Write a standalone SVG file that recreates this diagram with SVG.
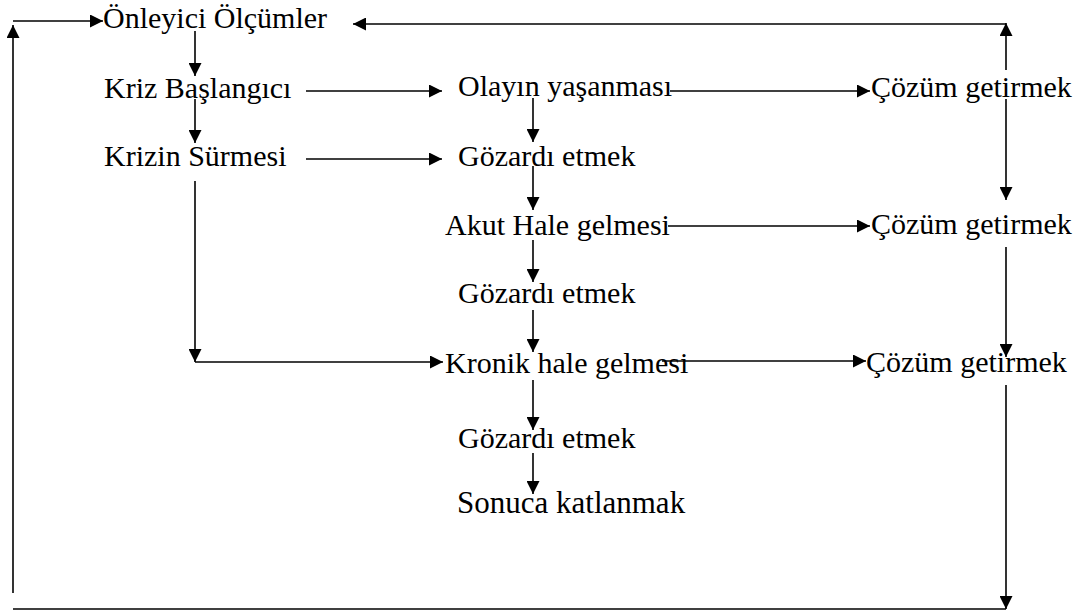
<svg xmlns="http://www.w3.org/2000/svg" width="1083" height="614" viewBox="0 0 1083 614">
  <style>
    .ln { stroke: #000; stroke-width: 1.6; fill: none; }
    .arr { marker-end: url(#head); }
  </style>
  <defs>
    <marker id="head" viewBox="0 0 12 12" refX="12" refY="6" markerWidth="13" markerHeight="13" markerUnits="userSpaceOnUse" orient="auto">
      <path d="M0,0 L12,6 L0,12 Z" fill="#000"/>
    </marker>
  </defs>
  <rect width="1083" height="614" fill="#fff"/>

  <g id="connectors">
    <!-- outer feedback loop -->
    <path class="ln arr" d="M13,593 V25"/>
    <path class="ln arr" d="M13,21 H103"/>
    <path class="ln" d="M13,609 H1006"/>
    <path class="ln arr" d="M1006,385 V609"/>
    <path class="ln arr" d="M1006,70 V23"/>
    <path class="ln arr" d="M1006,24 H353"/>
    <!-- left column -->
    <path class="ln arr" d="M195,31 V76"/>
    <path class="ln arr" d="M195,99 V143"/>
    <path class="ln arr" d="M195,181 V362"/>
    <path class="ln arr" d="M195,362 H443"/>
    <path class="ln arr" d="M306,91 H442"/>
    <path class="ln arr" d="M306,159 H442"/>
    <!-- middle column -->
    <path class="ln arr" d="M533,98 V142"/>
    <path class="ln arr" d="M533,166 V210"/>
    <path class="ln arr" d="M533,240 V282"/>
    <path class="ln arr" d="M533,310 V352"/>
    <path class="ln arr" d="M533,380 V430"/>
    <path class="ln arr" d="M533,453 V494"/>
    <!-- to solutions -->
    <path class="ln arr" d="M670,91 H870"/>
    <path class="ln arr" d="M668,226 H870"/>
    <path class="ln arr" d="M662,361 H866"/>
    <!-- right column -->
    <path class="ln arr" d="M1006,99 V200"/>
    <path class="ln arr" d="M1006,247 V357"/>
  </g>

  <g font-family="Liberation Serif, Times New Roman, serif" font-size="30" fill="#000">
    <g id="onleyici"><text x="103" y="28">Önleyici Ölçümler</text></g>
    <g id="kriz-baslangici"><text x="104" y="98">Kriz Başlangıcı</text></g>
    <g id="krizin-surmesi"><text x="104" y="166">Krizin Sürmesi</text></g>
    <g id="olayin-yasanmasi"><text x="458" y="96">Olayın yaşanması</text></g>
    <g id="gozardi-1"><text x="458" y="166">Gözardı etmek</text></g>
    <g id="akut-hale"><text x="445" y="235">Akut Hale gelmesi</text></g>
    <g id="gozardi-2"><text x="458" y="303">Gözardı etmek</text></g>
    <g id="kronik-hale"><text x="445" y="373">Kronik hale gelmesi</text></g>
    <g id="gozardi-3"><text x="458" y="448">Gözardı etmek</text></g>
    <g id="sonuca"><text x="457" y="513" font-size="31">Sonuca katlanmak</text></g>
    <g id="cozum-1"><text x="871" y="97">Çözüm getirmek</text></g>
    <g id="cozum-2"><text x="871" y="234">Çözüm getirmek</text></g>
    <g id="cozum-3"><text x="866" y="372">Çözüm getirmek</text></g>
  </g>
</svg>
